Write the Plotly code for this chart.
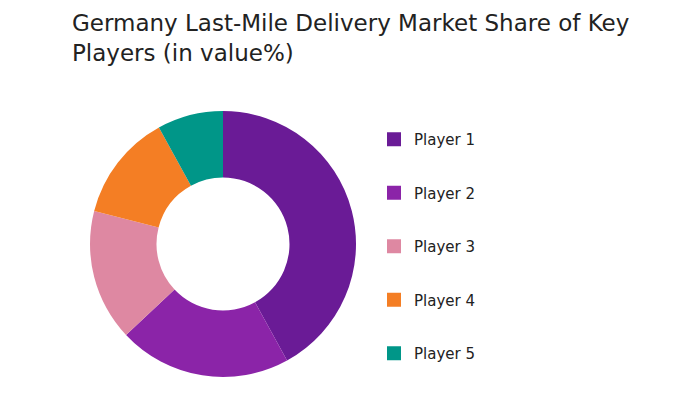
import plotly.graph_objects as go

players = ["Player 1", "Player 2", "Player 3", "Player 4", "Player 5"]
shares = [42, 21, 16, 13, 8]
colors = ["#6A1B96", "#8B24A8", "#DE88A2", "#F47E24", "#009688"]

W, H = 694, 394
cx, cy, r = 223, 244, 133

fig = go.Figure()
fig.add_trace(go.Pie(
    labels=players, values=shares, hole=0.5, sort=False,
    direction="clockwise", rotation=0,
    marker=dict(colors=colors, line=dict(width=0)),
    textinfo="none", hoverinfo="label+percent", showlegend=False,
    domain=dict(x=[(cx - r) / W, (cx + r) / W], y=[1 - (cy + r) / H, 1 - (cy - r) / H]),
))
for i, (p, c) in enumerate(zip(players, colors)):
    fig.add_trace(go.Scatter(
        x=[None], y=[None], mode="markers", name=p, legendgroup=f"g{i}",
        marker=dict(symbol="square", size=14, color=c), showlegend=True,
    ))

fig.update_layout(
    width=W, height=H,
    margin=dict(l=0, r=0, t=0, b=0),
    paper_bgcolor="white", plot_bgcolor="white",
    font=dict(family="DejaVu Sans", color="#222222"),
    title=dict(text="Germany Last-Mile Delivery Market Share of Key<br>Players (in value%)",
               x=72 / W, xanchor="left", xref="paper", y=1 - 31 / H, yanchor="top", yref="container",
               font=dict(size=23, color="#222222", family="DejaVu Sans")),
    xaxis=dict(visible=False), yaxis=dict(visible=False),
    legend=dict(x=374 / W, xanchor="left", y=1 - 123 / H, yanchor="top",
                font=dict(size=15, color="#222222"), tracegroupgap=31,
                bgcolor="rgba(0,0,0,0)"),
)
fig.write_html("out.html", config={"displayModeBar": False},
               post_script="document.body.style.margin='0px';")
